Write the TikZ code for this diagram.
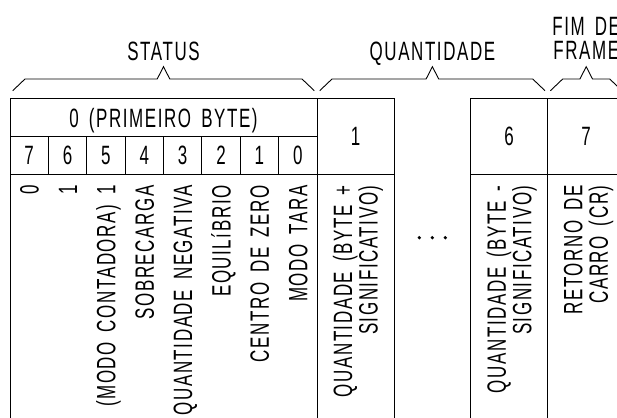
\documentclass[tikz,border=0pt]{standalone}
\usepackage{fontspec}
\newfontfamily\cadfont[FakeStretch=0.64,LetterSpace=6,WordSpace=1.6]{Liberation Sans}
\begin{document}
\begin{tikzpicture}[x=1pt,y=-1pt,line width=0.9pt,
  lbl/.style={font=\cadfont\fontsize{26.5}{25.5}\selectfont,inner sep=0pt},
  capbox/.style={lbl,text height=18.9pt,text depth=0pt},
  vtxt/.style={capbox,rotate=90,anchor=east},
  vtwo/.style={lbl,rotate=90,anchor=east,align=right},
  bracepath/.style={line width=0.9pt,line join=miter}]
\useasboundingbox (0,0) rectangle (617,417);
\clip (0,0) rectangle (617,417);
% column borders
\coordinate (cA) at (10,98);
\coordinate (cB) at (317,98);
\coordinate (cC) at (394,98);
\coordinate (cD) at (470.7,98);
\coordinate (cE) at (547.7,98);
\coordinate (cF) at (624.7,98);
% vertical lines
\foreach \c in {cA,cB,cC,cD,cE,cF}{\draw (\c) -- ++(0,330);}
% horizontal lines
\draw (cA) -- (cC);
\draw (cD) -- (cF);
\draw (10,136) -- (317,136);
\draw (10,174) -- (394,174);
\draw (470.7,174) -- (624.7,174);
% bit separators
\foreach \i in {1,...,7}{\draw (10+38.375*\i,136) -- (10+38.375*\i,174);}
% header
\node[capbox] (hdr) at (163.5,118) {0 (PRIMEIRO BYTE)};
\foreach \b [count=\i from 0] in {7,6,5,4,3,2,1,0}{
  \node[capbox] (bit\b) at (29.19+38.375*\i,155.5) {\b};}
\node[capbox] (q1) at (355.5,136) {1};
\node[capbox] (q6) at (509.2,136) {6};
\node[capbox] (q7) at (586.2,136) {7};
% rotated descriptions
\node[vtxt] (d7) at (29.19,185) {0};
\node[vtxt] (d6) at (67.56,185) {1};
\node[vtxt] (d5) at (105.94,185) {(MODO CONTADORA) 1};
\node[vtxt] (d4) at (144.31,185) {SOBRECARGA};
\node[vtxt] (d3) at (182.69,185) {QUANTIDADE NEGATIVA};
\node[vtxt] (d2) at (221.06,185) {EQUILíBRIO};
\node[vtxt] (d1) at (259.44,185) {CENTRO DE ZERO};
\node[vtxt] (d0) at (297.81,185) {MODO TARA};
\node[vtwo] (dq1) at (358,185) {QUANTIDADE (BYTE +\\SIGNIFICATIVO)};
\node[vtwo] (dq6) at (511.7,185) {QUANTIDADE (BYTE -\\SIGNIFICATIVO)};
\node[vtwo] (dq7) at (588.7,185) {RETORNO DE\\CARRO (CR)};
% dots
\foreach \x in {419.3,432.3,445.3}{\fill (\x,237.7) circle (1.8pt);}
% braces
\draw[bracepath] (12.7,90.7) -- (25,79) -- (157.2,79) -- (163.5,66.7) -- (169.8,79) -- (302,79) -- (314.3,90.7);
\draw[bracepath] (319.7,90.7) -- (332,79) -- (426.1,79) -- (432.4,66.7) -- (438.7,79) -- (532.7,79) -- (545,90.7);
\draw[bracepath] (550.4,90.7) -- (562.7,79) -- (579.9,79) -- (586.2,66.7) -- (592.5,79) -- (609.7,79) -- (622,90.7);
% group titles
\node[capbox] (tstatus) at (163.5,51) {STATUS};
\node[capbox] (tquant) at (432.4,51) {QUANTIDADE};
\node[capbox] (tfim1) at (586.2,26) {FIM DE};
\node[capbox] (tfim2) at (586.2,50) {FRAME};
\end{tikzpicture}
\end{document}
